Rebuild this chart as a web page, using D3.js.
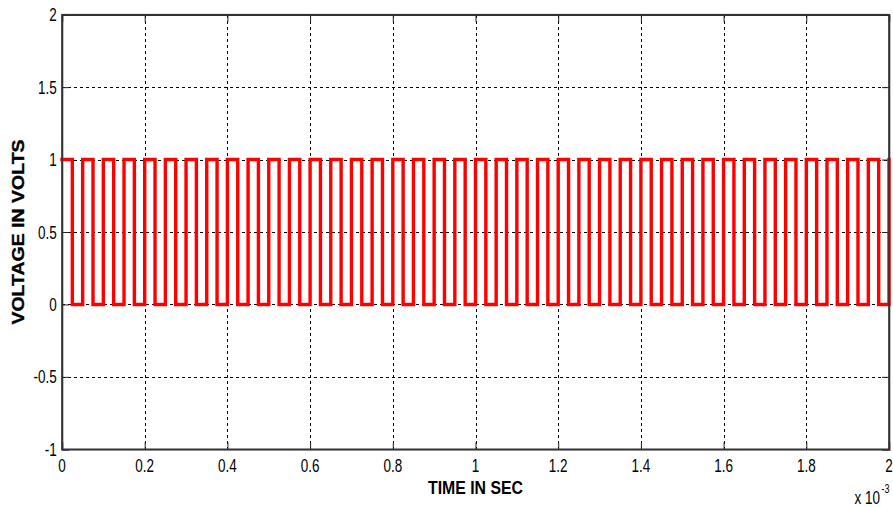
<!DOCTYPE html>
<html>
<head>
<meta charset="utf-8">
<script src="https://cdn.jsdelivr.net/npm/d3@7"></script>
<style>
  html, body { margin: 0; padding: 0; background: #fff; }
  svg { display: block; }
  text { font-family: "Liberation Sans", Arial, sans-serif; fill: #000; }
</style>
</head>
<body>
<svg id="chart" width="893" height="507"></svg>
<script>
// ---- data (time in ms, i.e. x 10^-3 s) ----
const timeMs = [0, 0.025, 0.05, 0.075, 0.1, 0.125, 0.15, 0.175, 0.2, 0.225, 0.25, 0.275, 0.3, 0.325, 0.35, 0.375,
  0.4, 0.425, 0.45, 0.475, 0.5, 0.525, 0.55, 0.575, 0.6, 0.625, 0.65, 0.675, 0.7, 0.725, 0.75, 0.775,
  0.8, 0.825, 0.85, 0.875, 0.9, 0.925, 0.95, 0.975, 1.0, 1.025, 1.05, 1.075, 1.1, 1.125, 1.15, 1.175,
  1.2, 1.225, 1.25, 1.275, 1.3, 1.325, 1.35, 1.375, 1.4, 1.425, 1.45, 1.475, 1.5, 1.525, 1.55, 1.575,
  1.6, 1.625, 1.65, 1.675, 1.7, 1.725, 1.75, 1.775, 1.8, 1.825, 1.85, 1.875, 1.9, 1.925, 1.95, 1.975, 2.0];
const voltage = [1, 0, 1, 0, 1, 0, 1, 0, 1, 0, 1, 0, 1, 0, 1, 0,
  1, 0, 1, 0, 1, 0, 1, 0, 1, 0, 1, 0, 1, 0, 1, 0,
  1, 0, 1, 0, 1, 0, 1, 0, 1, 0, 1, 0, 1, 0, 1, 0,
  1, 0, 1, 0, 1, 0, 1, 0, 1, 0, 1, 0, 1, 0, 1, 0,
  1, 0, 1, 0, 1, 0, 1, 0, 1, 0, 1, 0, 1, 0, 1, 0, 1];
const xTicks = [0, 0.2, 0.4, 0.6, 0.8, 1, 1.2, 1.4, 1.6, 1.8, 2];
const xTickLabels = ["0", "0.2", "0.4", "0.6", "0.8", "1", "1.2", "1.4", "1.6", "1.8", "2"];
const yTicks = [-1, -0.5, 0, 0.5, 1, 1.5, 2];
const yTickLabels = ["-1", "-0.5", "0", "0.5", "1", "1.5", "2"];
const xLabel = "TIME IN SEC";
const yLabel = "VOLTAGE IN VOLTS";

// ---- layout ----
const L = 62, R = 889, T = 14.7, B = 449.3;
const svg = d3.select("#chart");
const x = d3.scaleLinear().domain([0, 2]).range([L, R]);
const y = d3.scaleLinear().domain([-1, 2]).range([B, T]);

// grid
const grid = svg.append("g").attr("stroke", "#000").attr("stroke-width", 1)
  .attr("stroke-dasharray", "3,3").attr("shape-rendering", "crispEdges");
grid.selectAll("line.gx").data(xTicks.slice(1, -1)).join("line")
  .attr("x1", d => Math.round(x(d)) + 0.5).attr("x2", d => Math.round(x(d)) + 0.5)
  .attr("y1", T).attr("y2", B);
grid.selectAll("line.gy").data(yTicks.slice(1, -1)).join("line")
  .attr("class", "gy")
  .attr("y1", d => Math.round(y(d)) + 0.5).attr("y2", d => Math.round(y(d)) + 0.5)
  .attr("x1", L).attr("x2", R);

// axes (inward ticks, all four sides)
const tickLen = 7;
const axB = svg.append("g").attr("transform", `translate(0,${B})`)
  .call(d3.axisBottom(x).tickValues(xTicks).tickSize(-tickLen).tickFormat(""));
const axT = svg.append("g").attr("transform", `translate(0,${T})`)
  .call(d3.axisTop(x).tickValues(xTicks).tickSize(-tickLen).tickFormat(""));
const axL = svg.append("g").attr("transform", `translate(${L},0)`)
  .call(d3.axisLeft(y).tickValues(yTicks).tickSize(-tickLen).tickFormat(""));
const axR = svg.append("g").attr("transform", `translate(${R},0)`)
  .call(d3.axisRight(y).tickValues(yTicks).tickSize(-tickLen).tickFormat(""));
[axB, axT, axL, axR].forEach(a => {
  a.selectAll("path").attr("stroke", "#333").attr("stroke-width", 1.6);
  a.selectAll("line").attr("stroke", "#222").attr("stroke-width", 1);
});

// signal
const pts = timeMs.map((t, i) => [t, voltage[i]]);
const line = d3.line().x(d => x(d[0])).y(d => y(d[1])).curve(d3.curveStepAfter);
svg.append("path").datum(pts)
  .attr("d", line)
  .attr("fill", "none")
  .attr("stroke", "#ff0000")
  .attr("stroke-width", 3.4)
  .attr("stroke-linejoin", "miter")
  .attr("stroke-linecap", "square");

// re-draw box on top of signal edges
svg.append("rect").attr("x", L).attr("y", T).attr("width", R - L).attr("height", B - T)
  .attr("fill", "none").attr("stroke", "#333").attr("stroke-width", 1.6);

// tick labels
const sx = 0.75, fs = 18;
svg.append("g").selectAll("text").data(xTicks).join("text")
  .attr("transform", d => `translate(${x(d)},${471.5}) scale(${sx},1)`)
  .attr("text-anchor", "middle")
  .attr("font-size", fs)
  .text((d, i) => xTickLabels[i]);
svg.append("g").selectAll("text").data(yTicks).join("text")
  .attr("transform", d => `translate(${56.7},${y(d) + 6.5}) scale(${sx},1)`)
  .attr("text-anchor", "end")
  .attr("font-size", fs)
  .text((d, i) => yTickLabels[i]);

// axis labels
svg.append("text")
  .attr("transform", `translate(${(L + R) / 2},494) scale(0.88,1)`)
  .attr("text-anchor", "middle")
  .attr("font-size", 18).attr("font-weight", "bold")
  .text(xLabel);
svg.append("text")
  .attr("transform", `translate(23.5,${y(0.5)}) scale(0.85,1) rotate(-90)`)
  .attr("text-anchor", "middle")
  .attr("font-size", 19.5).attr("font-weight", "bold")
  .attr("stroke", "#000").attr("stroke-width", 0.4)
  .text(yLabel);

// exponent label
svg.append("text")
  .attr("transform", `translate(880,504) scale(${sx},1)`)
  .attr("text-anchor", "end")
  .attr("font-size", fs)
  .text("x 10");
svg.append("text")
  .attr("transform", `translate(881.5,493) scale(${sx},1)`)
  .attr("text-anchor", "start")
  .attr("font-size", 12)
  .text("-3");
</script>
</body>
</html>
